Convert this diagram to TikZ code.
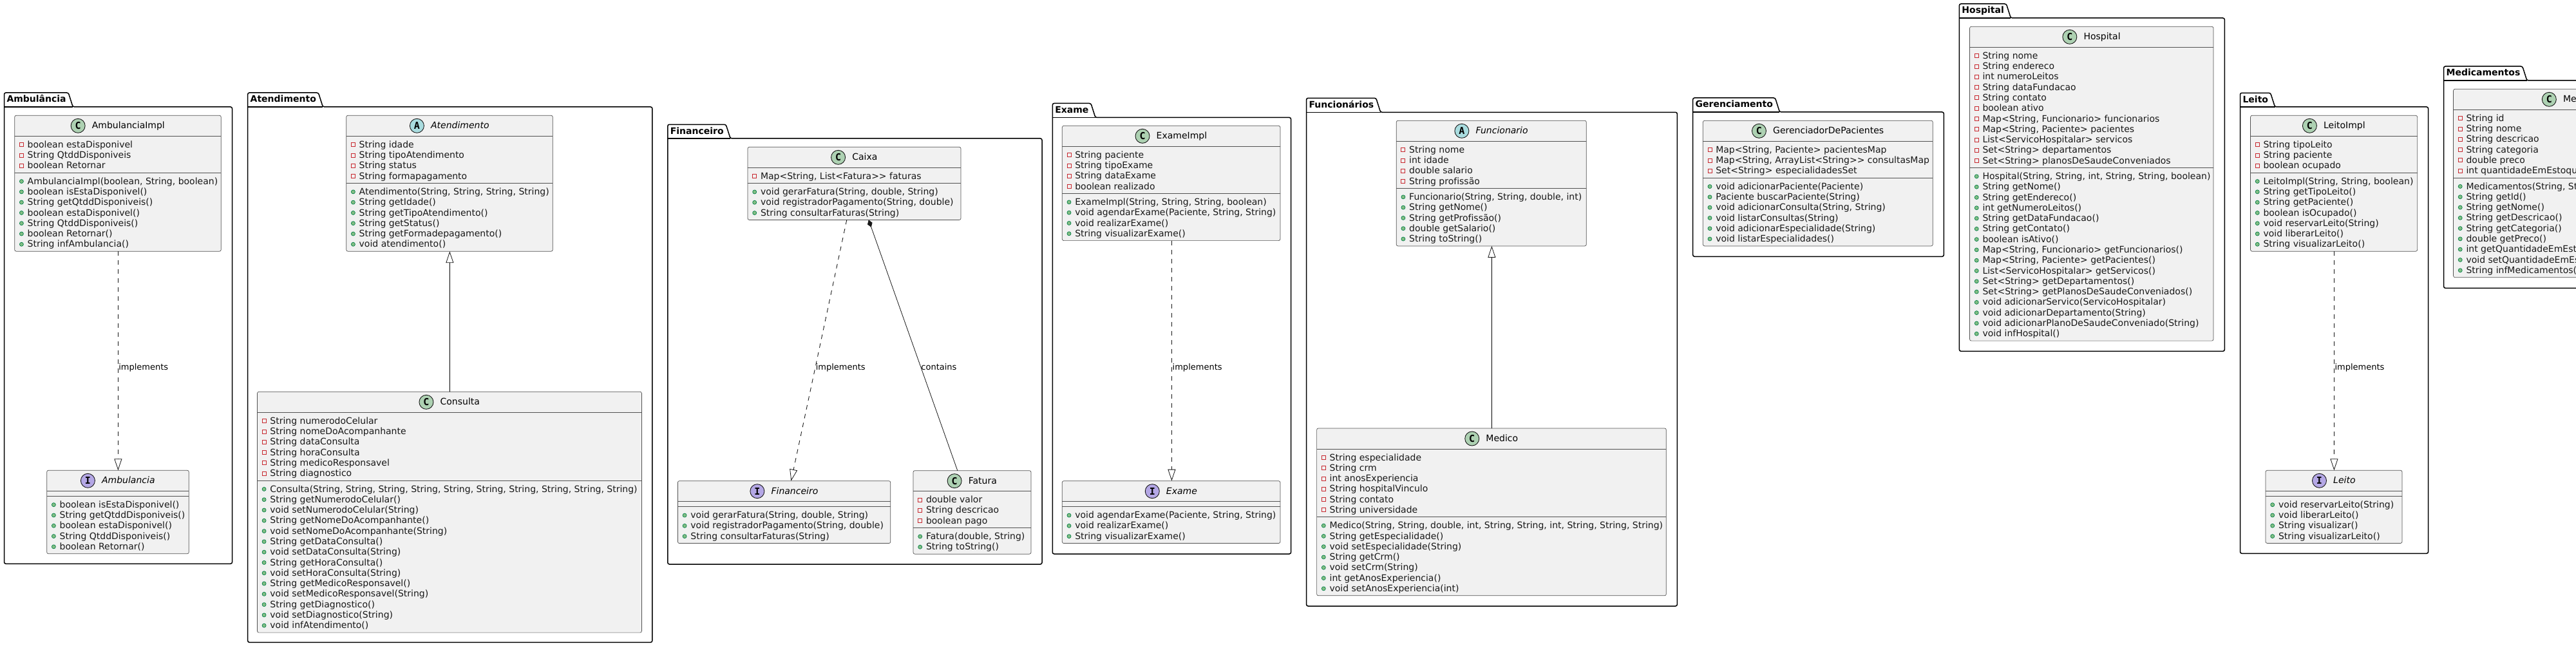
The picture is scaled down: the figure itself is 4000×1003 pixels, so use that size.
\documentclass[tikz,border=0pt]{standalone}
\usepackage{fontspec}
\usetikzlibrary{arrows.meta,calc}
\newfontfamily\umlfont{DejaVu Sans}[Ligatures=NoCommon]
\newfontfamily\umlmono{DejaVu Sans Mono}
\definecolor{kindC}{HTML}{ADD1B2}
\definecolor{kindA}{HTML}{A9DCDF}
\definecolor{kindI}{HTML}{B4A7E5}
\definecolor{classfill}{HTML}{F1F1F1}
\definecolor{inkline}{HTML}{181818}
\definecolor{privred}{HTML}{C82930}
\definecolor{pubgreen}{HTML}{84BE84}
\definecolor{pubedge}{HTML}{038048}
\def\ktitleC{}
\def\ktitleA{\itshape}
\def\ktitleI{\itshape}
\newsavebox{\measurebox}
\tikzset{
  x=1pt,y=-1pt,
  classbox/.style={draw=inkline!75,line width=0.7pt,fill=classfill,rounded corners=2.5pt,inner sep=0,outer sep=0},
  classline/.style={draw=inkline!75,line width=0.7pt},
  rowtext/.style={anchor=base west,inner sep=0,outer sep=0,text=inkline,font=\umlfont\fontsize{14}{16}\selectfont},
  titletext/.style={anchor=base west,inner sep=0,outer sep=0,text=black,font=\umlfont\fontsize{14}{16}\selectfont},
  kindicon/.style={circle,draw=inkline,line width=0.9pt,minimum size=22pt,inner sep=0,outer sep=0,font=\umlmono\bfseries\fontsize{15}{16}\selectfont},
  privsq/.style={rectangle,draw=privred,line width=0.9pt,minimum size=6pt,inner sep=0,outer sep=0},
  pubdot/.style={circle,draw=pubedge,line width=0.7pt,fill=pubgreen,minimum size=6pt,inner sep=0,outer sep=0},
  pkgline/.style={draw=black,line width=1.5pt,rounded corners=2.5pt},
  pkglabel/.style={anchor=base west,inner sep=0,outer sep=0,text=black,font=\umlfont\bfseries\fontsize{14}{16}\selectfont},
  linklabel/.style={anchor=base west,inner sep=0,outer sep=0,text=black,font=\umlfont\fontsize{13}{15}\selectfont},
  genlink/.style={draw=inkline,line width=0.9pt,-{Triangle[open,length=18pt,width=12pt,fill=white,line width=0.8pt]}},
  impllink/.style={genlink,dash pattern=on 7pt off 7pt},
  complink/.style={draw=inkline,line width=0.8pt,{Diamond[length=12pt,width=8pt,fill=inkline]}-},
}
\newcommand{\measuretext}[1]{%
  \pgfinterruptpicture\global\setbox\measurebox=\hbox{#1}\endpgfinterruptpicture}
% #1 name, #2 left, #3 right, #4 tab top, #5 body top, #6 bottom, #7 label
\newcommand{\umlpkg}[7]{%
  \measuretext{\umlfont\bfseries\fontsize{14}{16}\selectfont #7}%
  \pgfmathsetmacro\pkgS{#2+4+\the\wd\measurebox/1pt+3.5}%
  \path[pkgline,fill=white] (#2,#5) -- (#2,#4) -- (\pkgS,#4) -- ({\pkgS+7},#5) -- (#3,#5) -- (#3,#6) -- (#2,#6) -- cycle;
  \draw[draw=black,line width=1.5pt] (#2,#5) -- ({\pkgS+7},#5);
  \node[pkglabel] (#1) at ({#2+4},{#4+15}) {#7};
}
% #1 name, #2 left, #3 top, #4 right, #5 kind, #6 title, #7 nattr, #8 nmeth
\newcommand{\umlclass}[8]{%
  \def\cN{#1}\def\cL{#2}\def\cT{#3}\def\cNA{#7}\def\rowN{0}\def\rowM{0}%
  \pgfmathsetmacro\cH{32+(#7*16.29+8)+(#8*16.29+8)}%
  \node[classbox,minimum width={(#4-#2)*1pt},minimum height={\cH*1pt}] (#1) at ({(#2+#4)/2},{#3+\cH/2}) {};
  \draw[classline] (#2,{#3+32}) -- (#4,{#3+32});
  \draw[classline] (#2,{#3+32+#7*16.29+8}) -- (#4,{#3+32+#7*16.29+8});
  \measuretext{\umlfont\fontsize{14}{16}\selectfont\csname ktitle#5\endcsname #6}%
  \pgfmathsetmacro\cS{(#2+#4)/2-(22+10.7+\the\wd\measurebox/1pt)/2}%
  \node[kindicon,fill=kind#5] (#1-icon) at ({\cS+11},{#3+16}) {#5};
  \node[titletext] (#1-title) at ({\cS+32.7},{#3+20.4}) {\csname ktitle#5\endcsname #6};
}
\newcommand{\PA}[1]{%
  \pgfmathsetmacro\rowN{int(\rowN+1)}%
  \pgfmathsetmacro\rowT{\cT+36+(\rowN-1)*16.29}%
  \node[privsq] (\cN-as\rowN) at ({\cL+10.7},{\rowT+9.4}) {};
  \node[rowtext] (\cN-a\rowN) at ({\cL+20},{\rowT+14}) {#1};
}
\newcommand{\PM}[1]{%
  \pgfmathsetmacro\rowM{int(\rowM+1)}%
  \pgfmathsetmacro\rowT{\cT+32+\cNA*16.29+8+4+(\rowM-1)*16.29}%
  \node[pubdot] (\cN-ms\rowM) at ({\cL+10.7},{\rowT+9.4}) {};
  \node[rowtext] (\cN-m\rowM) at ({\cL+20},{\rowT+14}) {#1};
}
\begin{document}
\begin{tikzpicture}
\fill[white] (0,0) rectangle (4000,1003);
\path[use as bounding box,clip] (0,0) rectangle (4000,1003);

% ---- packages
\umlpkg{pAmb}{6.5}{360.5}{144}{166}{875.3}{Ambulância}
\umlpkg{pAte}{384.7}{1012.8}{144}{166}{997.3}{Atendimento}
\umlpkg{pFin}{1036.8}{1618}{193.3}{215}{876}{Financeiro}
\umlpkg{pExa}{1634.3}{2004.6}{160.5}{182.5}{860}{Exame}
\umlpkg{pFun}{2028.6}{2604.3}{152.3}{174.3}{941}{Funcionários}
\umlpkg{pGer}{2628.7}{3018.3}{152}{174}{398.3}{Gerenciamento}
\umlpkg{pHos}{3042.4}{3454.3}{6}{28}{545.3}{Hospital}
\umlpkg{pLei}{3478.5}{3770.5}{144.3}{166}{859.3}{Leito}
\umlpkg{pMed}{3794.6}{4300}{103}{125}{447.3}{Medicamentos}

% ---- Ambulancia
\umlclass{ambImpl}{22.7}{179.3}{343.3}{C}{AmbulanciaImpl}{3}{7}
\PA{boolean estaDisponivel}
\PA{String QtddDisponiveis}
\PA{boolean Retornar}
\PM{AmbulanciaImpl(boolean, String, boolean)}
\PM{boolean isEstaDisponivel()}
\PM{String getQtddDisponiveis()}
\PM{boolean estaDisponivel()}
\PM{String QtddDisponiveis()}
\PM{boolean Retornar()}
\PM{String infAmbulancia()}

\umlclass{amb}{72.7}{730.3}{293.3}{I}{Ambulancia}{0}{5}
\PM{boolean isEstaDisponivel()}
\PM{String getQtddDisponiveis()}
\PM{boolean estaDisponivel()}
\PM{String QtddDisponiveis()}
\PM{boolean Retornar()}

% ---- Atendimento
\umlclass{ate}{537.7}{179.3}{858.3}{A}{Atendimento}{4}{6}
\PA{String idade}
\PA{String tipoAtendimento}
\PA{String status}
\PA{String formapagamento}
\PM{Atendimento(String, String, String, String)}
\PM{String getIdade()}
\PM{String getTipoAtendimento()}
\PM{String getStatus()}
\PM{String getFormadepagamento()}
\PM{void atendimento()}

\umlclass{con}{399.4}{608.3}{996.5}{C}{Consulta}{6}{14}
\PA{String numerodoCelular}
\PA{String nomeDoAcompanhante}
\PA{String dataConsulta}
\PA{String horaConsulta}
\PA{String medicoResponsavel}
\PA{String diagnostico}
\PM{Consulta(String, String, String, String, String, String, String, String, String, String)}
\PM{String getNumerodoCelular()}
\PM{void setNumerodoCelular(String)}
\PM{String getNomeDoAcompanhante()}
\PM{void setNomeDoAcompanhante(String)}
\PM{String getDataConsulta()}
\PM{void setDataConsulta(String)}
\PM{String getHoraConsulta()}
\PM{void setHoraConsulta(String)}
\PM{String getMedicoResponsavel()}
\PM{void setMedicoResponsavel(String)}
\PM{String getDiagnostico()}
\PM{void setDiagnostico(String)}
\PM{void infAtendimento()}

% ---- Financeiro
\umlclass{cai}{1161}{228.3}{1492}{C}{Caixa}{1}{3}
\PA{Map<String, List<Fatura>> faturas}
\PM{void gerarFatura(String, double, String)}
\PM{void registradorPagamento(String, double)}
\PM{String consultarFaturas(String)}

\umlclass{fin}{1052.4}{746.7}{1382.8}{I}{Financeiro}{0}{3}
\PM{void gerarFatura(String, double, String)}
\PM{void registradorPagamento(String, double)}
\PM{String consultarFaturas(String)}

\umlclass{fat}{1418}{730.7}{1601}{C}{Fatura}{3}{2}
\PA{double valor}
\PA{String descricao}
\PA{boolean pago}
\PM{Fatura(double, String)}
\PM{String toString()}

% ---- Exame
\umlclass{exaImpl}{1649.3}{195.3}{1987.9}{C}{ExameImpl}{4}{4}
\PA{String paciente}
\PA{String tipoExame}
\PA{String dataExame}
\PA{boolean realizado}
\PM{ExameImpl(String, String, String, boolean)}
\PM{void agendarExame(Paciente, String, String)}
\PM{void realizarExame()}
\PM{String visualizarExame()}

\umlclass{exa}{1649.3}{746.7}{1987.9}{I}{Exame}{0}{3}
\PM{void agendarExame(Paciente, String, String)}
\PM{void realizarExame()}
\PM{String visualizarExame()}

% ---- Funcionarios
\umlclass{fun}{2168.2}{187.3}{2463.3}{A}{Funcionario}{4}{5}
\PA{String nome}
\PA{int idade}
\PA{double salario}
\PA{String profissão}
\PM{Funcionario(String, String, double, int)}
\PM{String getNome()}
\PM{String getProfissão()}
\PM{double getSalario()}
\PM{String toString()}

\umlclass{med}{2044.6}{665}{2587.3}{C}{Medico}{6}{7}
\PA{String especialidade}
\PA{String crm}
\PA{int anosExperiencia}
\PA{String hospitalVinculo}
\PA{String contato}
\PA{String universidade}
\PM{Medico(String, String, double, int, String, String, int, String, String, String)}
\PM{String getEspecialidade()}
\PM{void setEspecialidade(String)}
\PM{String getCrm()}
\PM{void setCrm(String)}
\PM{int getAnosExperiencia()}
\PM{void setAnosExperiencia(int)}

% ---- Gerenciamento
\umlclass{ger}{2644.3}{187.3}{3001.3}{C}{GerenciadorDePacientes}{3}{6}
\PA{Map<String, Paciente> pacientesMap}
\PA{Map<String, ArrayList<String>> consultasMap}
\PA{Set<String> especialidadesSet}
\PM{void adicionarPaciente(Paciente)}
\PM{Paciente buscarPaciente(String)}
\PM{void adicionarConsulta(String, String)}
\PM{void listarConsultas(String)}
\PM{void adicionarEspecialidade(String)}
\PM{void listarEspecialidades()}

% ---- Hospital
\umlclass{hos}{3058.5}{41.3}{3437}{C}{Hospital}{11}{16}
\PA{String nome}
\PA{String endereco}
\PA{int numeroLeitos}
\PA{String dataFundacao}
\PA{String contato}
\PA{boolean ativo}
\PA{Map<String, Funcionario> funcionarios}
\PA{Map<String, Paciente> pacientes}
\PA{List<ServicoHospitalar> servicos}
\PA{Set<String> departamentos}
\PA{Set<String> planosDeSaudeConveniados}
\PM{Hospital(String, String, int, String, String, boolean)}
\PM{String getNome()}
\PM{String getEndereco()}
\PM{int getNumeroLeitos()}
\PM{String getDataFundacao()}
\PM{String getContato()}
\PM{boolean isAtivo()}
\PM{Map<String, Funcionario> getFuncionarios()}
\PM{Map<String, Paciente> getPacientes()}
\PM{List<ServicoHospitalar> getServicos()}
\PM{Set<String> getDepartamentos()}
\PM{Set<String> getPlanosDeSaudeConveniados()}
\PM{void adicionarServico(ServicoHospitalar)}
\PM{void adicionarDepartamento(String)}
\PM{void adicionarPlanoDeSaudeConveniado(String)}
\PM{void infHospital()}

% ---- Leito
\umlclass{leiImpl}{3494.5}{179.3}{3753.6}{C}{LeitoImpl}{3}{7}
\PA{String tipoLeito}
\PA{String paciente}
\PA{boolean ocupado}
\PM{LeitoImpl(String, String, boolean)}
\PM{String getTipoLeito()}
\PM{String getPaciente()}
\PM{boolean isOcupado()}
\PM{void reservarLeito(String)}
\PM{void liberarLeito()}
\PM{String visualizarLeito()}

\umlclass{lei}{3518}{730.3}{3730}{I}{Leito}{0}{4}
\PM{void reservarLeito(String)}
\PM{void liberarLeito()}
\PM{String visualizar()}
\PM{String visualizarLeito()}

% ---- Medicamentos
\umlclass{mdc}{3809.5}{138.3}{4220}{C}{Medicamentos}{6}{9}
\PA{String id}
\PA{String nome}
\PA{String descricao}
\PA{String categoria}
\PA{double preco}
\PA{int quantidadeEmEstoque}
\PM{Medicamentos(String, String, String, String, double, int)}
\PM{String getId()}
\PM{String getNome()}
\PM{String getDescricao()}
\PM{String getCategoria()}
\PM{double getPreco()}
\PM{int getQuantidadeEmEstoque()}
\PM{void setQuantidadeEmEstoque(int)}
\PM{String infMedicamentos()}

% ---- connectors
\draw[impllink] ([xshift=0.4pt]ambImpl.south) -- ([xshift=0.4pt]amb.north);
\node[linklabel] (lAmb) at (184.3,574) {implements};
\draw[genlink] ([xshift=0.45pt]con.north) -- ([xshift=0.35pt]ate.south);
\draw[impllink] ([xshift=-11.7pt]cai.south) -- ([xshift=10.8pt]fin.north);
\node[linklabel] (lFin) at (1266.8,574) {implements};
\draw[complink] ([xshift=22.3pt]cai.south) -- ([xshift=-22.7pt]fat.north);
\node[linklabel] (lFat) at (1430.4,574) {contains};
\draw[impllink] ([xshift=0.8pt]exaImpl.south) -- ([xshift=0.8pt]exa.north);
\node[linklabel] (lExa) at (1820.7,574) {implements};
\draw[genlink] ([xshift=0.45pt]med.north) -- ([xshift=0.6pt]fun.south);
\draw[impllink] ([xshift=0.4pt]leiImpl.south) -- ([xshift=0.4pt]lei.north);
\node[linklabel] (lLei) at (3625.5,574) {implements};
\end{tikzpicture}
\end{document}
